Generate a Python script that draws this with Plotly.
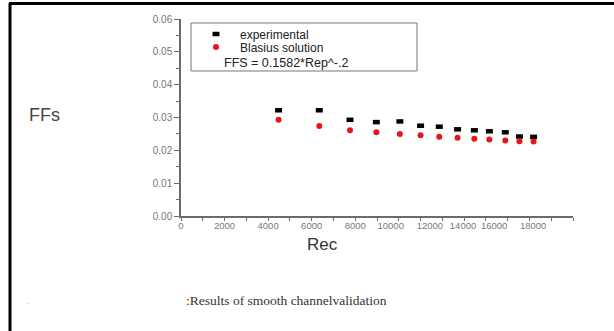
import plotly.graph_objects as go

# Data (x in the axis' linear tick units)
rec = [4480, 6350, 7760, 8970, 10050, 11000, 11860, 12700, 13470, 14160, 14890, 15540, 16190]
ffs_experimental = [0.0322, 0.0322, 0.0293, 0.0286, 0.0288, 0.0275, 0.0272, 0.0264, 0.0261, 0.0258, 0.0255, 0.0242, 0.0241]
ffs_blasius = [0.0293, 0.0274, 0.0261, 0.0255, 0.0250, 0.0246, 0.0241, 0.0238, 0.0235, 0.0233, 0.0230, 0.0228, 0.0227]

# Tick labels as they appear on the reference x axis
x_tick_vals = [0, 2000, 4000, 6000, 8000, 9630, 11430, 12950, 14380, 16170]
x_tick_text = ["0", "2000", "4000", "6000", "8000", "10000", "12000", "14000", "16000", "18000"]
y_tick_vals = [0.00, 0.01, 0.02, 0.03, 0.04, 0.05, 0.06]

L, R, T, B = 181, 573, 19, 216
W, H = 614, 331


def px(x):
    return (x - L) / (R - L)


def py(y):
    return (B - y) / (B - T)


fig = go.Figure()
fig.add_trace(go.Scatter(
    x=rec, y=ffs_experimental, mode="markers", name="experimental",
    marker=dict(symbol="line-ew", size=5, color="black",
                line=dict(color="black", width=4.5)),
    legend="legend",
))
fig.add_trace(go.Scatter(
    x=rec, y=ffs_blasius, mode="markers", name="Blasius solution",
    marker=dict(symbol="circle", size=6, color="#e8141b", line=dict(width=0)),
    legend="legend2",
))

axis_color = "#6b6b6b"
leg_common = dict(xanchor="left", yanchor="middle", bgcolor="rgba(0,0,0,0)",
                  borderwidth=0, font=dict(size=12, color="#222"), itemwidth=38)
fig.update_layout(
    width=W, height=H,
    margin=dict(l=L, r=W - R, t=T, b=H - B, pad=0),
    paper_bgcolor="white", plot_bgcolor="white",
    font=dict(family="Arial, Liberation Sans, sans-serif", color="#333"),
    showlegend=True,
    legend=dict(x=px(192), y=py(34), **leg_common),
    legend2=dict(x=px(192), y=py(47), **leg_common),
    xaxis=dict(
        range=[0, 18000], showgrid=False, zeroline=False,
        showline=True, linecolor=axis_color, linewidth=1.5,
        tickmode="array", tickvals=x_tick_vals, ticktext=x_tick_text,
        ticks="", tickangle=0, tickfont=dict(size=9.5, color="#777"),
        minor=dict(tickmode="linear", tick0=0, dtick=1000, ticks="outside",
                   ticklen=3, tickcolor=axis_color, tickwidth=1, showgrid=False),
    ),
    yaxis=dict(
        range=[0, 0.06], showgrid=False, zeroline=False,
        showline=True, linecolor=axis_color, linewidth=1.5,
        tickmode="array", tickvals=y_tick_vals, tickformat=".2f",
        ticks="outside", ticklen=5, tickcolor=axis_color, tickwidth=1,
        tickfont=dict(size=10, color="#777"),
        minor=dict(tickmode="linear", tick0=0, dtick=0.005, ticks="outside",
                   ticklen=3, tickcolor=axis_color, tickwidth=1, showgrid=False),
    ),
)

shapes = [
    # legend frame
    dict(type="rect", xref="paper", yref="paper",
         x0=px(191), x1=px(417), y0=py(71), y1=py(23),
         line=dict(color="#777", width=1), fillcolor="rgba(0,0,0,0)"),
    # page frame lines (top and left)
    dict(type="line", xref="paper", yref="paper",
         x0=px(9), x1=px(614), y0=py(3.5), y1=py(3.5),
         line=dict(color="black", width=3)),
    dict(type="line", xref="paper", yref="paper",
         x0=px(10), x1=px(10), y0=py(3), y1=py(331),
         line=dict(color="black", width=3)),
]
fig.update_layout(shapes=shapes)

annotations = [
    dict(text="FFS = 0.1582*Rep^-.2", x=px(222), y=py(63), xref="paper", yref="paper",
         xanchor="left", yanchor="middle", showarrow=False,
         font=dict(size=12.5, color="#222")),
    dict(text="FFs", x=px(44), y=py(115), xref="paper", yref="paper",
         xanchor="center", yanchor="middle", showarrow=False,
         font=dict(size=18, color="#444")),
    dict(text="Rec", x=px(322), y=py(244), xref="paper", yref="paper",
         xanchor="center", yanchor="middle", showarrow=False,
         font=dict(size=17, color="#333")),
    dict(text=":Results of smooth channelvalidation", x=px(286), y=py(300), xref="paper", yref="paper",
         xanchor="center", yanchor="middle", showarrow=False,
         font=dict(size=13.5, color="#333", family="Liberation Serif, Times New Roman, serif")),
    dict(text="·", x=px(27), y=py(303), xref="paper", yref="paper",
         xanchor="center", yanchor="middle", showarrow=False,
         font=dict(size=10, color="#bbb")),
]
fig.update_layout(annotations=annotations)

fig.write_html("out.html", config={"displayModeBar": False},
               post_script="document.body.style.margin='0';document.body.style.overflow='hidden';")
